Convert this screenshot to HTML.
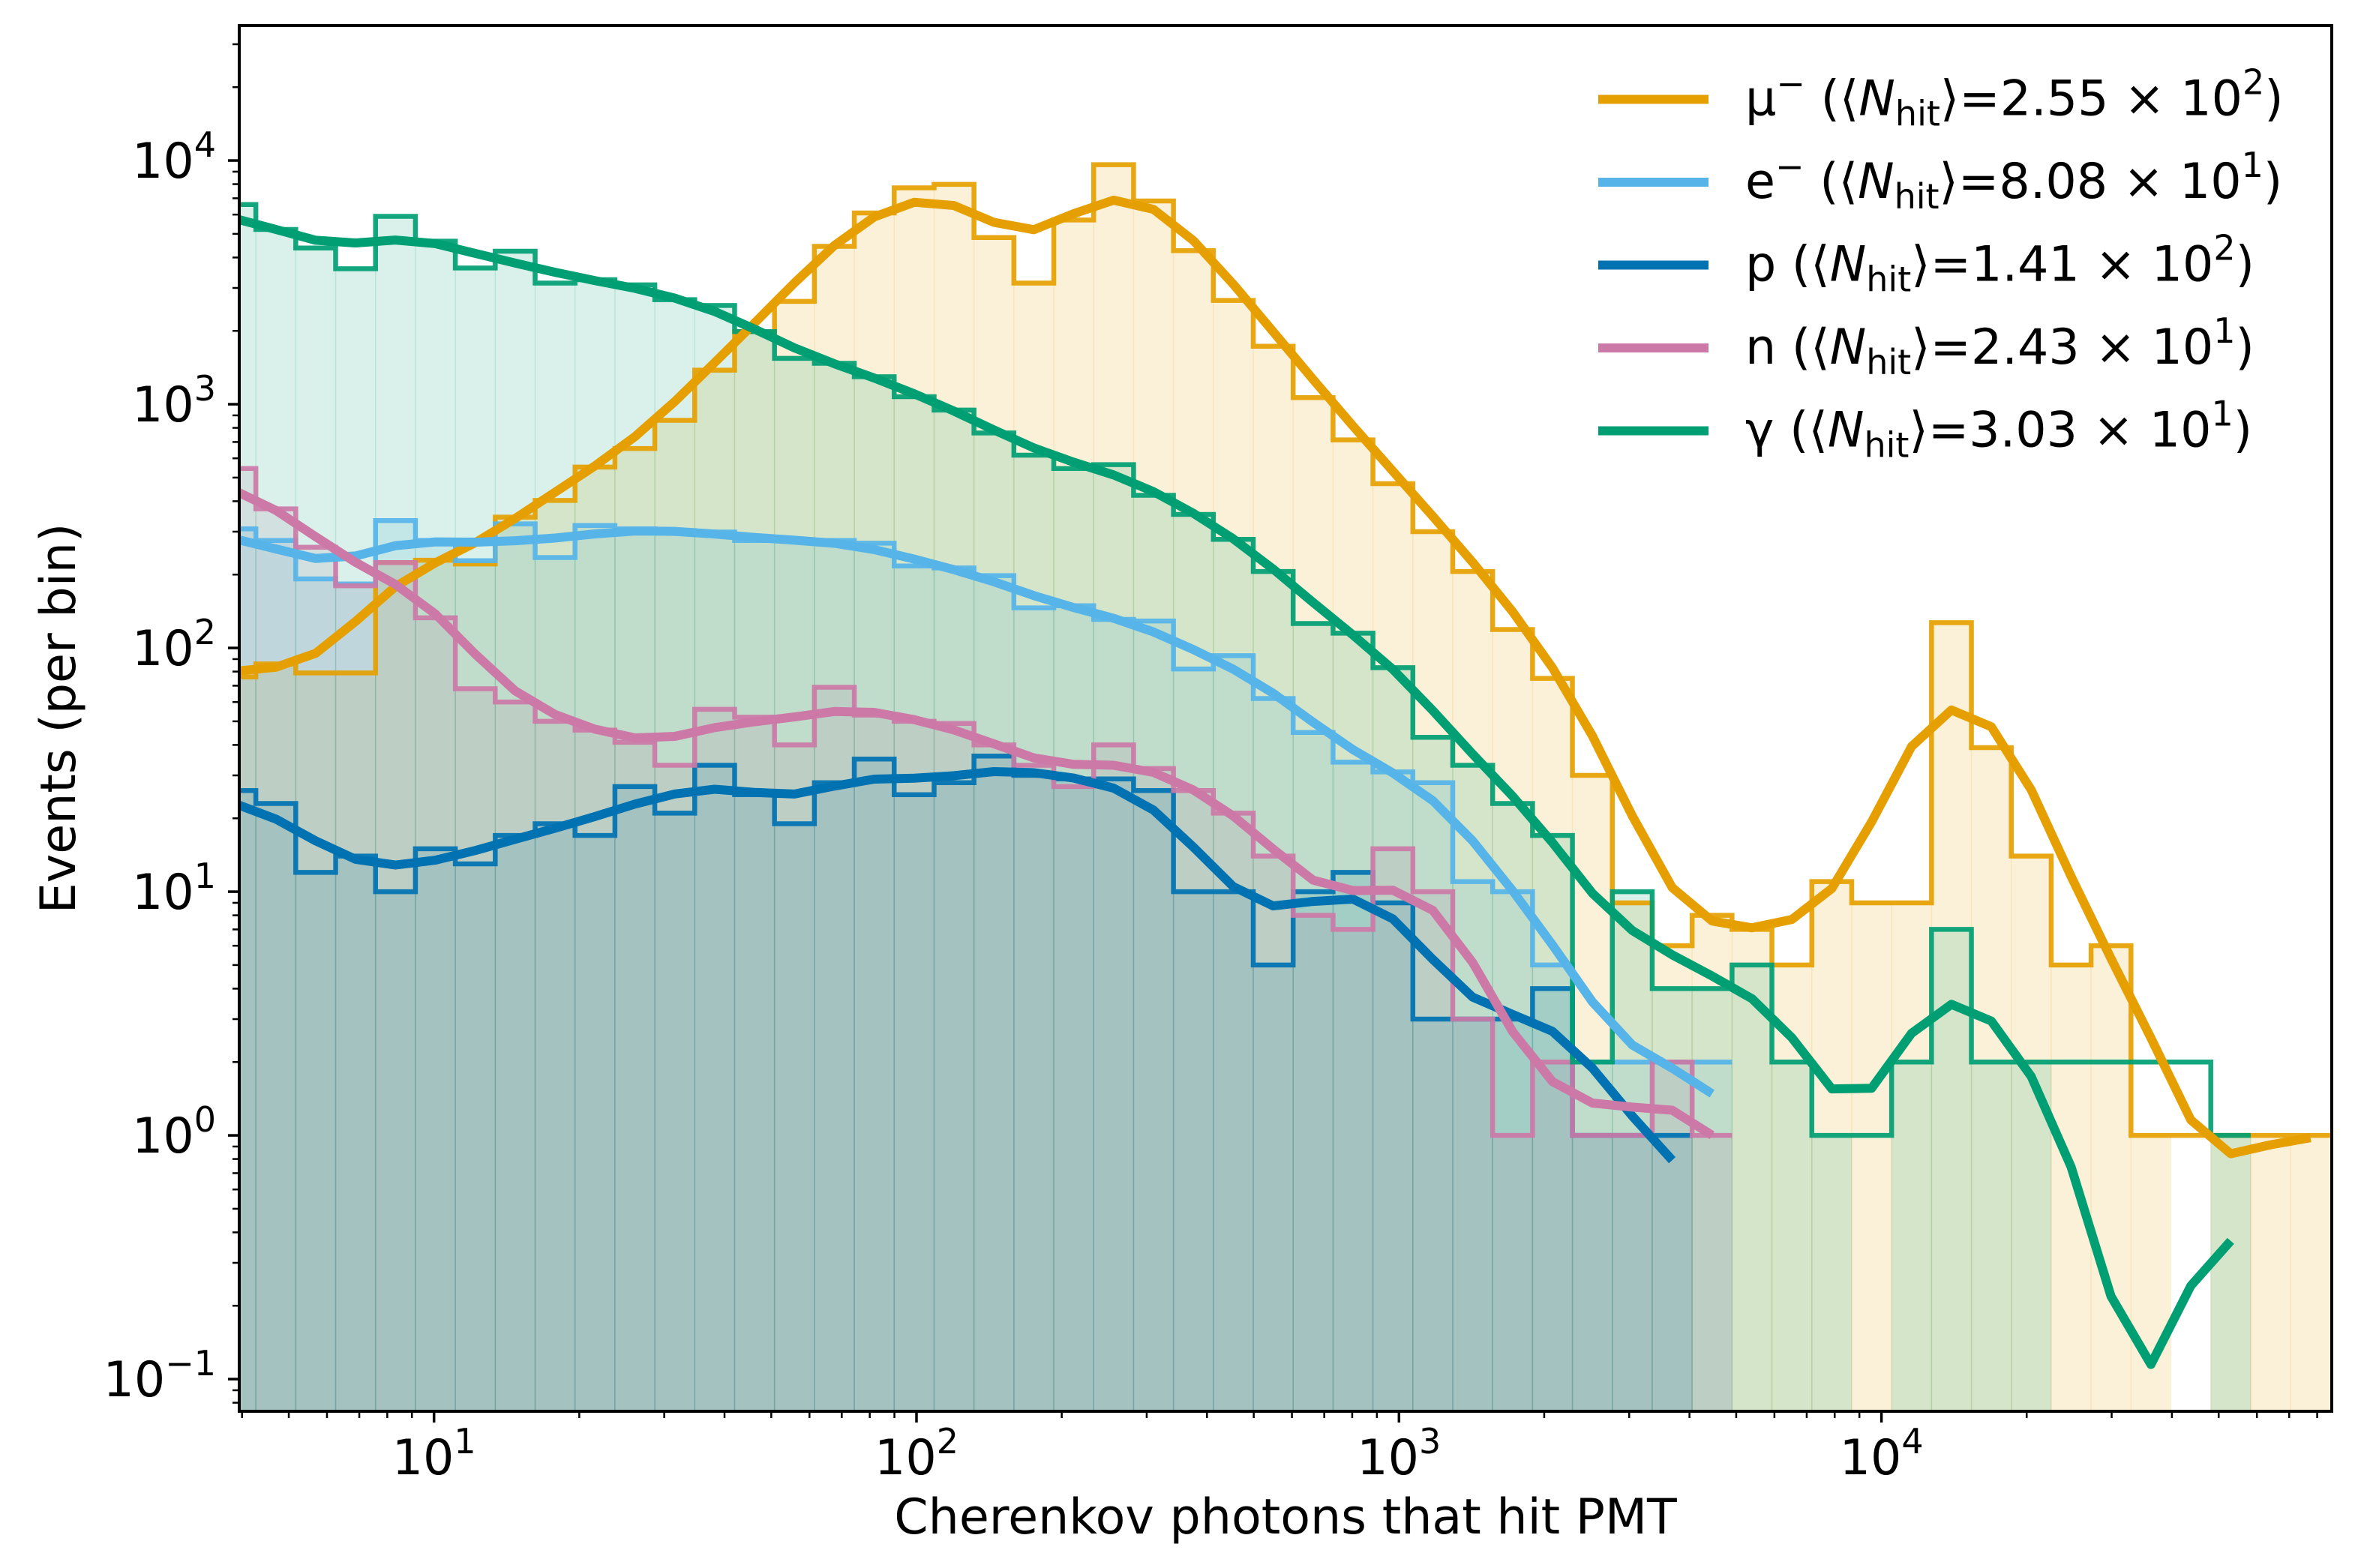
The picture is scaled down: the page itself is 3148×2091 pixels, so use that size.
<!DOCTYPE html>
<html><head><meta charset="utf-8"><title>Cherenkov photons histogram</title>
<style>html,body{margin:0;padding:0;background:#fff}svg{display:block}text{font-family:"DejaVu Sans","Liberation Sans",sans-serif;fill:#000}</style>
</head><body>
<svg id="chart" xmlns="http://www.w3.org/2000/svg" width="3148" height="2091" viewBox="0 0 3148 2091">
<defs><clipPath id="plotclip"><rect x="319" y="34" width="2790" height="1848"/></clipPath></defs>
<rect x="0" y="0" width="3148" height="2091" fill="#fff"/>
<g id="fills" clip-path="url(#plotclip)"></g>
<g id="steps" clip-path="url(#plotclip)"></g>
<g id="curves" clip-path="url(#plotclip)"></g>
<g id="axes"></g>
<text x="1714" y="2045" text-anchor="middle" font-size="65">Cherenkov photons that hit PMT</text>
<text transform="translate(100,958) rotate(-90)" text-anchor="middle" font-size="65">Events (per bin)</text>
<g id="legend"></g>
</svg>
<script>
// ---- data (bins from index -1 .. 51; 53 log-spaced bins) ----
const binLo = 3.532;
const binHi = 85240;
const nBins = 53;
const muCounts = [76,86,79,79,224,229,221,344,403,552,658,859,1380,1986,2642,4446,6095,7727,7980,4831,3141,5702,9616,6823,4266,2667,1730,1064,714,472,300,206,119,75,30,9,6,8,7,5,11,9,9,127,39,14,5,6,1,0,1,1,1];
const eCounts = [308,276,192,183,333,276,228,323,235,318,308,303,299,276,276,276,269,217,213,198,146,149,131,129,82,93,62,45,34,31,28,11,10,5,2,2,2,2,0,0,0,0,0,0,0,0,0,0,0,0,0,0,0];
const pCounts = [26,23,12,14,10,15,13,17,19,17,27,21,33,25,19,28,35,25,28,36,30,29,29,26,10,10,5,10,12,9,3,3,3,4,1,1,1,0,0,0,0,0,0,0,0,0,0,0,0,0,0,0,0];
const nCounts = [545,372,259,180,224,133,68,60,50,46,41,33,56,52,40,69,53,50,49,40,33,27,40,32,26,21,14,8,7,15,10,3,1,2,1,1,2,1,0,0,0,0,0,0,0,0,0,0,0,0,0,0,0];
const gammaCounts = [6600,5212,4375,3597,5902,4667,3622,4246,3141,3243,3090,2685,2541,1986,1542,1472,1297,1074,946,762,618,545,565,423,353,279,206,126,115,83,43,33,23,17,2,10,4,4,5,2,1,0,2,7,2,2,0,0,0,0,1,0,0];
const seriesNames = ["mu-minus","electron","proton","neutron","gamma"];
const seriesColors = ["#E69F00","#56B4E9","#0072B2","#CC79A7","#009E73"];
const seriesCounts = [muCounts,eCounts,pCounts,nCounts,gammaCounts];
const legendParticles = ["μ","e","p","n","γ"];
const legendCharge = ["⁻","⁻","","",""];
const legendMantissa = ["2.55","8.08","1.41","2.43","3.03"];
const legendExponent = ["2","1","2","1","1"];
const yTickExps = [-1,0,1,2,3,4];
const xTickExps = [1,2,3,4];

// ---- axes ----
const L=319,R=3109,T=34,B=1882;
const xLogMin=0.5963,xLogMax=4.9333,yLogMin=-1.132,yLogMax=4.554;
const NS="http://www.w3.org/2000/svg";
function X(v){return L+(Math.log10(v)-xLogMin)/(xLogMax-xLogMin)*(R-L);}
function Y(v){return T+(yLogMax-Math.log10(v))/(yLogMax-yLogMin)*(B-T);}
function mk(tag,attrs,parent){const e=document.createElementNS(NS,tag);for(const k in attrs)e.setAttribute(k,attrs[k]);parent.appendChild(e);return e;}
const edges=[];
for(let k=0;k<=nBins;k++){edges.push(Math.pow(10,Math.log10(binLo)+k*(Math.log10(binHi)-Math.log10(binLo))/nBins));}

const gF=document.getElementById('fills'),gS=document.getElementById('steps'),gC=document.getElementById('curves'),gA=document.getElementById('axes'),gL=document.getElementById('legend');

// fills
seriesCounts.forEach((arr,si)=>{
  arr.forEach((v,i)=>{
    if(v<=0)return;
    const x0=X(edges[i]),x1=X(edges[i+1]),y=Y(v);
    const r=mk('rect',{x:x0,y:y,width:x1-x0,height:B+10-y,fill:seriesColors[si],'fill-opacity':0.15,stroke:seriesColors[si],'stroke-opacity':0.07,'stroke-width':1.5},gF);
    
    
  });
});
// steps
seriesCounts.forEach((arr,si)=>{
  let last=-1;arr.forEach((v,i)=>{if(v>0)last=i;});
  let d='',prev=null;
  for(let i=0;i<=last;i++){
    let v=arr[i]>0?arr[i]:prev; if(v===null)continue;
    const x0=X(edges[i]),x1=X(edges[i+1]),y=Y(v);
    if(prev===null){d+='M'+x0+','+(B+10)+'L'+x0+','+y;}else{d+='L'+x0+','+y;}
    d+='L'+x1+','+y; prev=v;
  }
  const p=mk('path',{d:d,fill:'none',stroke:seriesColors[si],'stroke-width':6.5,'stroke-opacity':0.92,'stroke-linejoin':'miter'},gS);
  
  
});
// smoothed curves (gaussian smoothing of the bin counts)
const sigma=1.2;
seriesCounts.forEach((arr,si)=>{
  let last=-1;arr.forEach((v,i)=>{if(v>0)last=i;});
  const pts=[];
  for(let i=0;i<=last;i++){
    let s=0,w=0;
    for(let k=-4;k<=4;k++){const j=i+k;if(j<0||j>last+1||j>=arr.length)continue;const wk=Math.exp(-k*k/(2*sigma*sigma));s+=wk*arr[j];w+=wk;}
    const sm=s/w; if(sm<=0)continue;
    const xc=X(Math.sqrt(edges[i]*edges[i+1]));
    pts.push(xc.toFixed(1)+','+Y(sm).toFixed(1));
  }
  const pl=mk('polyline',{points:pts.join(' '),fill:'none',stroke:seriesColors[si],'stroke-width':12,'stroke-linejoin':'round','stroke-linecap':'butt'},gC);
  
  
});
// y ticks
for(let e=-2;e<=4;e++){
  for(let m=1;m<=9;m++){
    const v=m*Math.pow(10,e); if(v<Math.pow(10,yLogMin)||v>Math.pow(10,yLogMax))continue;
    const y=Y(v),major=(m===1);
    const t=mk('line',{x1:L,x2:L-(major?15:9),y1:y,y2:y,stroke:'#000','stroke-width':major?3.5:2.5},gA);
    
    
  }
}
yTickExps.forEach(e=>{
  const y=Y(Math.pow(10,e));
  const t=mk('text',{x:288,y:y+23,'text-anchor':'end','font-size':65},gA);
  
  
  t.textContent='10';
  const s=mk('tspan',{dy:-28,'font-size':46},t);
  s.textContent=(e<0?'−':'')+Math.abs(e);
});
// x ticks
for(let e=0;e<=4;e++){
  for(let m=1;m<=9;m++){
    const v=m*Math.pow(10,e); const lg=Math.log10(v); if(lg<xLogMin||lg>xLogMax)continue;
    const x=X(v),major=(m===1);
    const t=mk('line',{x1:x,x2:x,y1:B,y2:B+(major?15:9),stroke:'#000','stroke-width':major?3.5:2.5},gA);
    
    
  }
}
xTickExps.forEach(e=>{
  const x=X(Math.pow(10,e));
  const t=mk('text',{x:x,y:1966,'text-anchor':'middle','font-size':65},gA);
  
  
  t.textContent='10';
  const s=mk('tspan',{dy:-28,'font-size':46},t);
  s.textContent=String(e);
});
const fr=mk('rect',{x:L,y:T,width:R-L,height:B-T,fill:'none',stroke:'#000','stroke-width':4},gA);


// legend
legendParticles.forEach((p,i)=>{
  const y=132.5+i*110.5;
  const ln=mk('line',{x1:2131,x2:2278,y1:y,y2:y,stroke:seriesColors[i],'stroke-width':12},gL);
  
  
  const t=mk('text',{x:2327,y:y+21,'font-size':65},gL);
  
  
  const a=mk('tspan',{},t);a.textContent=p;
  if(legendCharge[i]){const c=mk('tspan',{dy:-26,'font-size':46},t);c.textContent='−';const c2=mk('tspan',{dy:26},t);c2.textContent=' (⟨';}
  else{const c2=mk('tspan',{},t);c2.textContent=' (⟨';}
  const n=mk('tspan',{'font-style':'italic'},t);n.textContent='N';
  const h=mk('tspan',{dy:14,'font-size':46},t);h.textContent='hit';
  const r=mk('tspan',{dy:-14},t);r.textContent='⟩='+legendMantissa[i]+' × 10';
  const ex=mk('tspan',{dy:-28,'font-size':46},t);ex.textContent=legendExponent[i];
  const cl=mk('tspan',{dy:28},t);cl.textContent=')';
});
</script>
</body></html>
